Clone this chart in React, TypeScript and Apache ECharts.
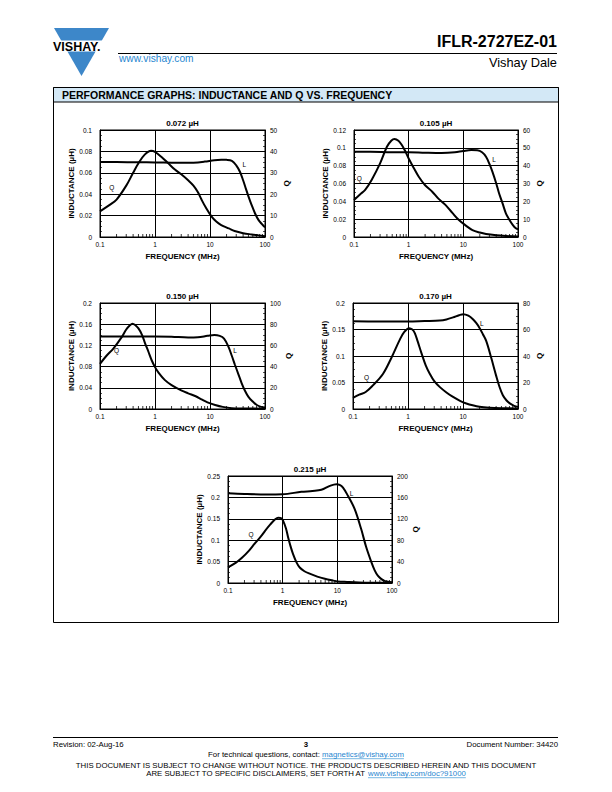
import React, { useEffect, useRef } from "react";
import * as echarts from "echarts";

const FONT = '"Liberation Sans", Arial, Helvetica, sans-serif';

// ---------- data ----------
const chartTitles = ["0.072 µH", "0.105 µH", "0.150 µH", "0.170 µH", "0.215 µH"];
const minorFreqs = [0.2, 0.3, 0.4, 0.5, 0.6, 0.7, 0.8, 0.9, 2, 3, 4, 5, 6, 7, 8, 9, 20, 30, 40, 50, 60, 70, 80, 90];

// 0.072 µH
const l1Freq = [0.1, 0.2, 0.5, 1, 2, 3, 5, 8, 12, 16, 20, 25, 30, 35, 40, 45, 50, 57, 66, 76, 88, 100];
const l1Val = [0.07, 0.07, 0.0699, 0.0697, 0.0694, 0.0693, 0.0695, 0.0705, 0.0718, 0.0722, 0.0721, 0.0712, 0.067, 0.061, 0.053, 0.045, 0.038, 0.03, 0.022, 0.016, 0.012, 0.009];
const q1Freq = [0.1, 0.15, 0.2, 0.3, 0.4, 0.5, 0.65, 0.85, 1, 1.3, 1.75, 2.3, 3, 4, 5, 6, 7, 8.5, 10.7, 13, 16, 22, 28, 40, 57, 75, 100];
const q1Val = [12, 15, 17.5, 24, 30, 34.5, 38.5, 40.3, 39.8, 37.5, 34.4, 31.5, 29.3, 26.5, 24, 21, 17.5, 13.5, 9.5, 7.2, 5.6, 4, 2.8, 1.8, 1.2, 0.8, 0.4];

// 0.105 µH
const l2Freq = [0.1, 0.2, 0.5, 1, 2, 4, 7, 10, 14, 18, 22, 26, 30, 34, 40, 45, 52, 60, 70, 80, 90, 100];
const l2Val = [0.0955, 0.0955, 0.095, 0.095, 0.0945, 0.0942, 0.095, 0.0965, 0.0975, 0.0972, 0.095, 0.09, 0.082, 0.0733, 0.06, 0.049, 0.038, 0.0266, 0.019, 0.0135, 0.01, 0.0086];
const q2Freq = [0.1, 0.13, 0.16, 0.21, 0.3, 0.4, 0.48, 0.55, 0.65, 0.75, 0.87, 1, 1.25, 1.53, 2, 2.7, 3.5, 4.7, 6.3, 8.3, 11, 14.7, 20, 26, 40, 60, 100];
const q2Val = [20.7, 24, 26.4, 32, 41.3, 50.6, 54, 55, 54, 51.6, 48, 44, 38.5, 33.8, 29, 25.4, 21.5, 18, 13.5, 9.5, 6.5, 3.9, 2.5, 1.7, 1, 0.6, 0.3];

// 0.150 µH
const l3Freq = [0.1, 0.3, 1, 2, 4, 6, 9, 12, 15, 18, 21.5, 25, 28.5, 33, 37.7, 43, 50, 60, 71, 85, 100];
const l3Val = [0.137, 0.137, 0.137, 0.1365, 0.135, 0.1355, 0.138, 0.1396, 0.138, 0.133, 0.118, 0.1, 0.083, 0.065, 0.0485, 0.035, 0.023, 0.014, 0.0075, 0.004, 0.003];
const q3Freq = [0.1, 0.13, 0.175, 0.25, 0.3, 0.35, 0.39, 0.44, 0.5, 0.58, 0.66, 0.76, 0.87, 1, 1.15, 1.5, 2, 3, 4, 5.5, 7, 9, 12.4, 17, 25, 40, 100];
const q3Val = [42.5, 50, 57, 68, 75, 79, 80.5, 79, 76, 70, 62, 54, 46, 39.5, 34.6, 27.5, 22.6, 17.6, 14.8, 12, 9.1, 6.3, 3.8, 2, 0.8, 0.5, 0.3];

// 0.170 µH
const l4Freq = [0.1, 0.3, 1, 2, 3.8, 5, 6.6, 8.5, 10.2, 12.5, 15, 17.5, 20, 23, 26.5, 32.5, 40, 46, 53, 62, 71, 85, 100];
const l4Val = [0.1655, 0.165, 0.165, 0.166, 0.167, 0.169, 0.1728, 0.177, 0.179, 0.176, 0.17, 0.162, 0.153, 0.141, 0.128, 0.097, 0.063, 0.042, 0.026, 0.016, 0.0105, 0.006, 0.004];
const q4Freq = [0.1, 0.13, 0.17, 0.23, 0.35, 0.5, 0.71, 0.85, 1.05, 1.2, 1.33, 1.5, 1.75, 2.1, 2.5, 3, 3.8, 5, 6.6, 9, 11.5, 15, 20, 30, 50, 100];
const q4Val = [8.4, 10.8, 12.8, 17.8, 26.4, 38.7, 52.4, 58, 61, 60, 57.3, 51, 42.4, 33, 26.4, 21, 16.5, 12.5, 9.1, 6, 4.2, 2.8, 1.7, 1, 0.6, 0.4];

// 0.215 µH
const l5Freq = [0.1, 0.2, 0.5, 1, 2.2, 3.5, 5.1, 7.3, 9.6, 11, 12.7, 15.6, 20.7, 27.3, 33.7, 41.6, 48, 55, 64, 73, 85, 100];
const l5Val = [0.2095, 0.208, 0.207, 0.2075, 0.213, 0.215, 0.2177, 0.227, 0.231, 0.2295, 0.223, 0.204, 0.173, 0.126, 0.084, 0.05, 0.03, 0.017, 0.009, 0.005, 0.003, 0.002];
const q5Freq = [0.1, 0.14, 0.18, 0.24, 0.31, 0.4, 0.48, 0.6, 0.73, 0.83, 0.95, 1.02, 1.15, 1.26, 1.4, 1.55, 1.8, 2.05, 2.5, 3.2, 4.3, 5.9, 8, 10.2, 15, 25, 50, 100];
const q5Val = [29.4, 38, 47, 60, 74, 87, 98, 110, 119, 122, 121, 116, 102, 85, 68, 54, 38, 29, 22, 17, 12, 8, 5, 3, 2, 1, 0.5, 0.3];

const lFreqs = [l1Freq, l2Freq, l3Freq, l4Freq, l5Freq];
const lVals = [l1Val, l2Val, l3Val, l4Val, l5Val];
const qFreqs = [q1Freq, q2Freq, q3Freq, q4Freq, q5Freq];
const qVals = [q1Val, q2Val, q3Val, q4Val, q5Val];

// axis ranges
const lMax = [0.1, 0.12, 0.2, 0.2, 0.25];
const lStep = [0.02, 0.02, 0.04, 0.05, 0.05];
const qMax = [50, 60, 100, 80, 200];
const qStep = [10, 10, 20, 20, 40];

// curve annotation anchors (data units)
const qTagAt = [[0.163, 23], [0.125, 33], [0.2, 55], [0.177, 24], [0.265, 91]];
const lTagAt = [[42, 0.068], [36.5, 0.0864], [28.5, 0.11], [21.9, 0.1606], [18.2, 0.21]];

// ---------- layout ----------
const grids = [
  { left: 100, top: 130, width: 165, height: 107 },
  { left: 354, top: 130, width: 164, height: 107 },
  { left: 100, top: 303, width: 165, height: 106 },
  { left: 353, top: 303, width: 165, height: 106 },
  { left: 228, top: 476, width: 164, height: 107 },
];

function measure(text: string, font: string): number {
  const ctx = document.createElement("canvas").getContext("2d");
  if (!ctx) return text.length * 4;
  ctx.font = font;
  return ctx.measureText(text).width;
}

function txt(x: number, y: number, text: string, size: number, opts: any = {}) {
  const align = opts.align || "left";
  return {
    type: "text",
    x,
    y,
    silent: true,
    style: {
      text,
      fill: opts.fill || "#000",
      fontSize: size,
      fontFamily: FONT,
      fontWeight: opts.weight || "normal",
      align,
      textAlign: align,
      verticalAlign: "middle",
      textVerticalAlign: "middle",
    },
  };
}

function buildOption() {
  const black = "#000";
  const xAxes: any[] = [];
  const yAxes: any[] = [];
  const series: any[] = [];
  const graphics: any[] = [];

  grids.forEach((g, i) => {
    xAxes.push({
      type: "log",
      logBase: 10,
      min: 0.1,
      max: 100,
      gridIndex: i,
      axisLine: { show: true, lineStyle: { color: black, width: 1 } },
      axisTick: { show: false },
      axisLabel: {
        fontSize: 6.5,
        fontFamily: FONT,
        color: black,
        margin: 4,
        formatter: (v: number) => String(+Number(v).toPrecision(3)),
      },
      splitLine: { show: true, lineStyle: { color: black, width: 1 } },
      name: "FREQUENCY (MHz)",
      nameLocation: "middle",
      nameGap: 15,
      nameTextStyle: { fontSize: 8, fontWeight: "bold", fontFamily: FONT, color: black },
    });
    yAxes.push({
      type: "value",
      gridIndex: i,
      position: "left",
      min: 0,
      max: lMax[i],
      interval: lStep[i],
      axisLine: { show: true, lineStyle: { color: black, width: 1 } },
      axisTick: { show: true, inside: true, length: 3, lineStyle: { color: black, width: 0.8 } },
      minorTick: { show: true, splitNumber: 4, length: 2, lineStyle: { color: black, width: 0.7 } },
      axisLabel: {
        fontSize: 6.5,
        fontFamily: FONT,
        color: black,
        margin: 8,
        formatter: (v: number) => String(+Number(v).toFixed(3)),
      },
      splitLine: { show: true, lineStyle: { color: black, width: 1 } },
      name: "INDUCTANCE (µH)",
      nameLocation: "middle",
      nameGap: 25,
      nameTextStyle: { fontSize: 8, fontWeight: "bold", fontFamily: FONT, color: black },
    });
    yAxes.push({
      type: "value",
      gridIndex: i,
      position: "right",
      min: 0,
      max: qMax[i],
      interval: qStep[i],
      axisLine: { show: true, lineStyle: { color: black, width: 1 } },
      axisTick: { show: true, inside: true, length: 3, lineStyle: { color: black, width: 0.8 } },
      minorTick: { show: true, splitNumber: 4, length: 2, lineStyle: { color: black, width: 0.7 } },
      axisLabel: { fontSize: 6.5, fontFamily: FONT, color: black, margin: 5 },
      splitLine: { show: false },
      name: "Q",
      nameLocation: "middle",
      nameGap: 17,
      nameTextStyle: { fontSize: 8, fontWeight: "bold", fontFamily: FONT, color: black },
    });

    const lData = lFreqs[i].map((f, k) => [f, lVals[i][k]]);
    const qData = qFreqs[i].map((f, k) => [f, qVals[i][k]]);
    series.push({
      type: "line",
      xAxisIndex: i,
      yAxisIndex: 2 * i,
      data: lData,
      smooth: 0.35,
      symbol: "none",
      lineStyle: { color: black, width: 2 },
      z: 5,
    });
    series.push({
      type: "line",
      xAxisIndex: i,
      yAxisIndex: 2 * i + 1,
      data: qData,
      smooth: 0.35,
      symbol: "none",
      lineStyle: { color: black, width: 2 },
      z: 5,
    });
    series.push({
      type: "custom",
      xAxisIndex: i,
      yAxisIndex: 2 * i,
      data: minorFreqs.map((f) => [f, 0]),
      encode: { x: 0, y: 1 },
      silent: true,
      z: 6,
      renderItem: (_p: any, api: any) => {
        const pt = api.coord([api.value(0), 0]);
        return {
          type: "line",
          shape: { x1: pt[0], y1: pt[1], x2: pt[0], y2: pt[1] - 3 },
          style: { stroke: black, lineWidth: 0.8 },
        };
      },
    });

    graphics.push(txt(g.left + g.width / 2, g.top - 7, chartTitles[i], 8, { align: "center", weight: "bold" }));
  });

  // ---------- page decorations ----------
  const blue = "#3d87c9";
  const link = "#1f86d0";
  graphics.push({
    type: "polygon",
    silent: true,
    shape: { points: [[54, 28], [109, 28], [81.5, 76]] },
    style: { fill: blue },
  });
  graphics.push({ type: "rect", silent: true, shape: { x: 48, y: 40.5, width: 66, height: 11 }, style: { fill: "#fff" } });
  graphics.push(txt(53, 46.5, "VISHAY.", 12.5, { weight: 900 }));
  graphics.push(txt(119, 58.5, "www.vishay.com", 10.2, { fill: link }));
  graphics.push({
    type: "line",
    silent: true,
    shape: { x1: 118, y1: 53.5, x2: 557, y2: 53.5 },
    style: { stroke: "#000", lineWidth: 1.2 },
  });
  graphics.push(txt(557, 41, "IFLR-2727EZ-01", 16, { align: "right", weight: "bold" }));
  graphics.push(txt(557, 62.5, "Vishay Dale", 12.8, { align: "right" }));

  // section frame
  graphics.push({
    type: "rect",
    silent: true,
    shape: { x: 53.5, y: 87.5, width: 505, height: 535 },
    style: { fill: "none", stroke: "#000", lineWidth: 1 },
  });
  graphics.push({
    type: "rect",
    silent: true,
    shape: { x: 53.5, y: 87.5, width: 505, height: 14.5 },
    style: { fill: "#d3e8f6", stroke: "#000", lineWidth: 1 },
  });
  graphics.push(txt(62, 95, "PERFORMANCE GRAPHS: INDUCTANCE AND Q VS. FREQUENCY", 10.5, { weight: 900 }));

  // footer
  graphics.push({
    type: "line",
    silent: true,
    shape: { x1: 53, y1: 737.5, x2: 558, y2: 737.5 },
    style: { stroke: "#000", lineWidth: 1 },
  });
  const fs = 7.8;
  const f = `${fs}px ${FONT}`;
  graphics.push(txt(53, 744, "Revision: 02-Aug-16", fs));
  graphics.push(txt(306, 744.5, "3", fs, { align: "center", weight: "bold" }));
  graphics.push(txt(558, 744, "Document Number: 34420", fs, { align: "right" }));

  const pre1 = "For technical questions, contact: ";
  const lnk1 = "magnetics@vishay.com";
  const w1a = measure(pre1, f);
  const w1b = measure(lnk1, f);
  const x1 = 306 - (w1a + w1b) / 2;
  graphics.push(txt(x1, 754.5, pre1, fs));
  graphics.push(txt(x1 + w1a, 754.5, lnk1, fs, { fill: link }));
  graphics.push({
    type: "line",
    silent: true,
    shape: { x1: x1 + w1a, y1: 758.7, x2: x1 + w1a + w1b, y2: 758.7 },
    style: { stroke: link, lineWidth: 0.6 },
  });

  graphics.push(
    txt(306, 765, "THIS DOCUMENT IS SUBJECT TO CHANGE WITHOUT NOTICE. THE PRODUCTS DESCRIBED HEREIN AND THIS DOCUMENT", fs, {
      align: "center",
    })
  );
  const pre2 = "ARE SUBJECT TO SPECIFIC DISCLAIMERS, SET FORTH AT ";
  const lnk2 = "www.vishay.com/doc?91000";
  const w2a = measure(pre2, f);
  const w2b = measure(lnk2, f);
  const x2 = 306 - (w2a + w2b) / 2;
  graphics.push(txt(x2, 773.5, pre2, fs));
  graphics.push(txt(x2 + w2a, 773.5, lnk2, fs, { fill: link }));
  graphics.push({
    type: "line",
    silent: true,
    shape: { x1: x2 + w2a, y1: 777.7, x2: x2 + w2a + w2b, y2: 777.7 },
    style: { stroke: link, lineWidth: 0.6 },
  });

  return {
    animation: false,
    backgroundColor: "#fff",
    textStyle: { fontFamily: FONT },
    grid: grids.map((g) => ({
      left: g.left,
      top: g.top,
      width: g.width,
      height: g.height,
      show: true,
      borderColor: "#000",
      borderWidth: 1,
      backgroundColor: "transparent",
      containLabel: false,
    })),
    xAxis: xAxes,
    yAxis: yAxes,
    series,
    graphic: { elements: graphics },
  };
}

export default function App() {
  const ref = useRef<HTMLDivElement>(null);
  useEffect(() => {
    if (!ref.current) return;
    const chart = echarts.init(ref.current, undefined, { renderer: "svg", width: 612, height: 792 });
    const option: any = buildOption();
    chart.setOption(option);
    // curve tags "Q" / "L", placed through the chart's own axes
    const tags: any[] = [];
    grids.forEach((_g, i) => {
      const qp = chart.convertToPixel({ xAxisIndex: i, yAxisIndex: 2 * i + 1 } as any, qTagAt[i]) as any;
      const lp = chart.convertToPixel({ xAxisIndex: i, yAxisIndex: 2 * i } as any, lTagAt[i]) as any;
      if (qp) tags.push(txt(qp[0], qp[1], "Q", 6.5, { align: "center" }));
      if (lp) tags.push(txt(lp[0], lp[1], "L", 6.5, { align: "center" }));
    });
    option.graphic.elements = option.graphic.elements.concat(tags);
    chart.setOption({ graphic: option.graphic } as any);
    return () => chart.dispose();
  }, []);
  return (
    <div
      ref={ref}
      style={{ position: "absolute", left: 0, top: 0, width: 612, height: 792, background: "#fff" }}
    />
  );
}
